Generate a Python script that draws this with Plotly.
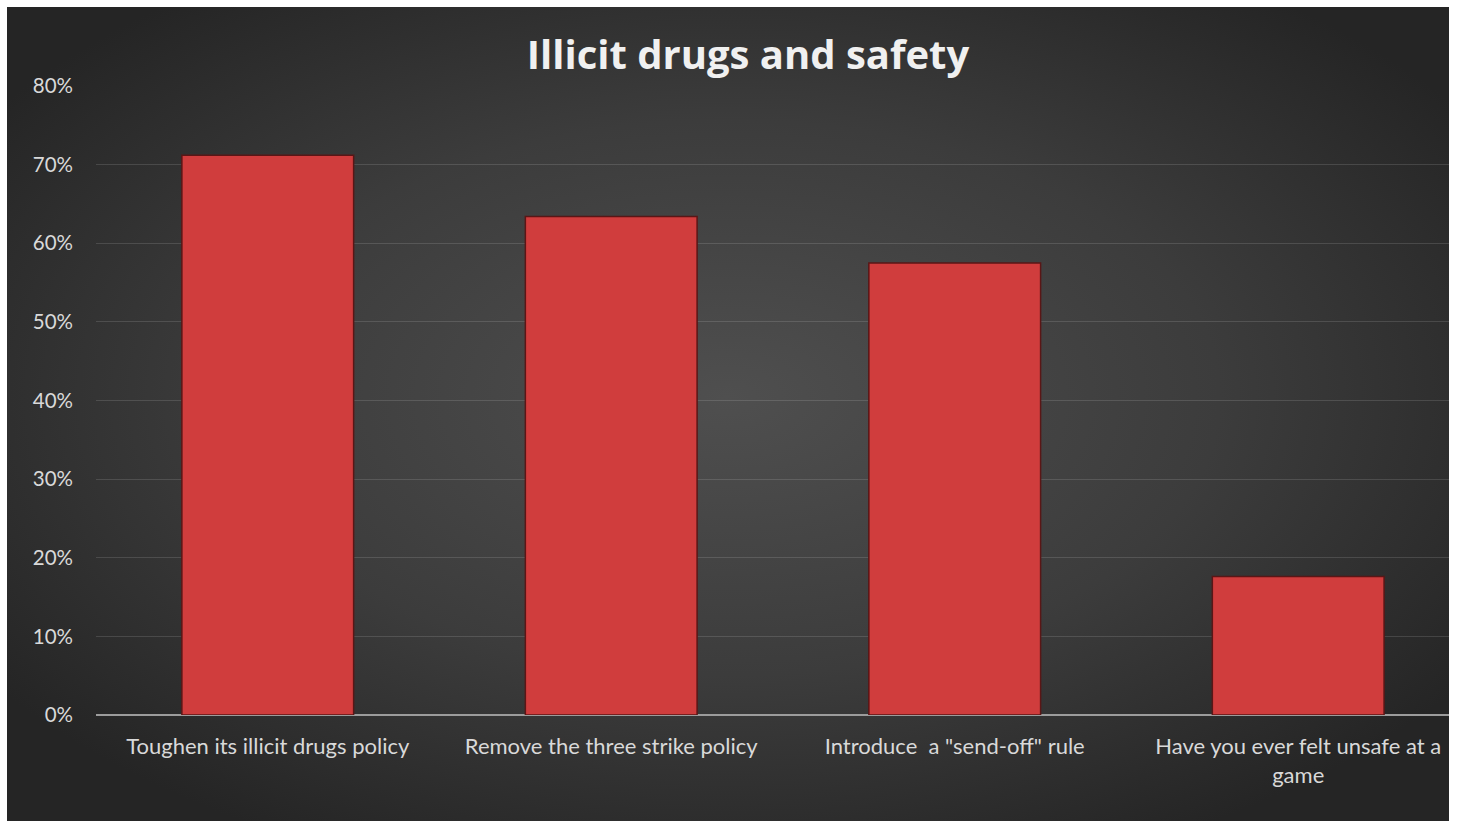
import base64
import plotly.graph_objects as go

categories = [
    "Toughen its illicit drugs policy",
    "Remove the three strike policy",
    "Introduce  a \"send-off\" rule",
    "Have you ever felt unsafe at a<br>game",
]
values = [0.712, 0.634, 0.575, 0.176]
tick_vals = [0, 0.1, 0.2, 0.3, 0.4, 0.5, 0.6, 0.7, 0.8]
tick_text = ["0%", "10%", "20%", "30%", "40%", "50%", "60%", "70%", "80%"]

svg = (
    '<svg xmlns="http://www.w3.org/2000/svg" width="1000" height="600" viewBox="0 0 1000 600" preserveAspectRatio="none">'
    '<defs><radialGradient id="g" cx="50%" cy="48%" r="62%">'
    '<stop offset="0%" stop-color="#4f4f4f"/>'
    '<stop offset="55%" stop-color="#3c3c3c"/>'
    '<stop offset="100%" stop-color="#252525"/>'
    '</radialGradient></defs>'
    '<rect width="1000" height="600" fill="url(#g)"/></svg>'
)
bg_src = "data:image/svg+xml;base64," + base64.b64encode(svg.encode()).decode()

fig = go.Figure()
fig.add_trace(go.Bar(
    x=categories,
    y=values,
    width=0.5,
    marker=dict(color="#d03d3d", line=dict(color="#5a1616", width=1.5)),
    hoverinfo="skip",
))

fig.update_layout(
    width=1460,
    height=829,
    margin=dict(l=96, r=11, t=86, b=114),
    paper_bgcolor="white",
    plot_bgcolor="rgba(0,0,0,0)",
    showlegend=False,
    font=dict(family="Lato, Open Sans, sans-serif", color="#d9d9d9"),
    title=dict(
        text="<b>Illicit drugs and safety</b>",
        x=748 / 1460, xref="container", xanchor="center",
        y=1 - 55 / 829, yref="container", yanchor="middle",
        font=dict(size=40, color="#f0f0f0", family="Open Sans, Lato, sans-serif"),
    ),
    images=[dict(
        source=bg_src, xref="paper", yref="paper",
        x=-0.0658, y=1.1256, sizex=1.0658, sizey=1.2941,
        xanchor="left", yanchor="top", sizing="stretch", layer="below",
    )],
    xaxis=dict(
        type="category",
        range=[-0.5, 3.439],
        showgrid=False,
        showline=False,
        ticks="",
        tickfont=dict(size=22, color="#d9d9d9"),
        ticklabelstandoff=16,
    ),
    yaxis=dict(
        range=[0, 0.8],
        tickvals=tick_vals,
        ticktext=tick_text,
        tickfont=dict(size=20.5, color="#d9d9d9"),
        showgrid=True,
        gridcolor="rgba(255,255,255,0.13)",
        gridwidth=1,
        zeroline=True,
        zerolinecolor="#9c9c9c",
        zerolinewidth=2,
        ticks="",
        ticklabelstandoff=22,
    ),
)

fig.write_html("out.html")
